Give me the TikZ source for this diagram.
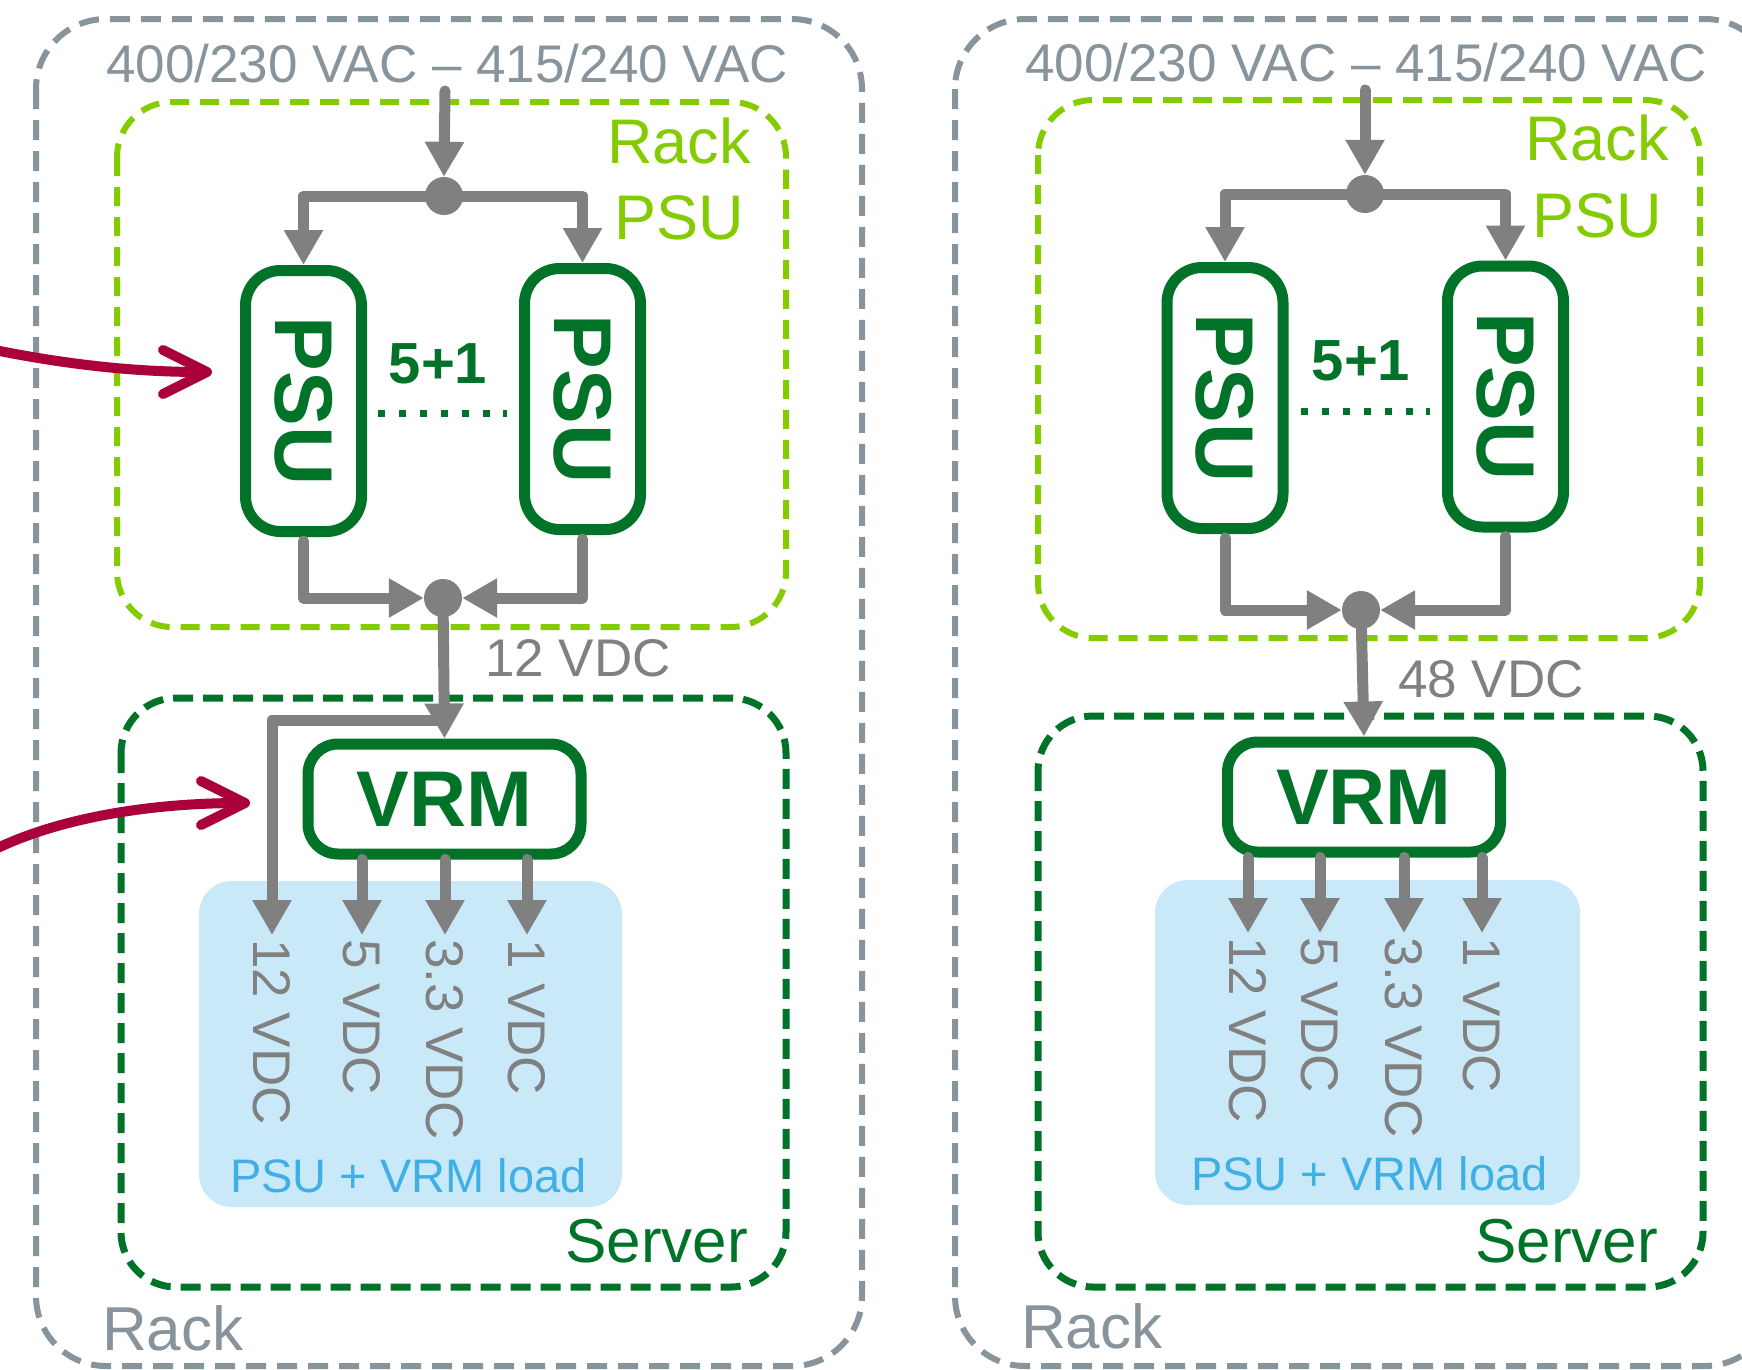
\documentclass[tikz,border=0pt]{standalone}
\usepackage{fontspec}
\setmainfont{Liberation Sans}
\usetikzlibrary{arrows.meta}
\definecolor{rackgray}{RGB}{135,148,155}
\definecolor{lgreen}{RGB}{132,204,0}
\definecolor{dgreen}{RGB}{0,115,40}
\definecolor{wgray}{RGB}{128,128,128}
\definecolor{mag}{RGB}{170,0,60}
\definecolor{lblue}{RGB}{201,233,248}
\definecolor{tblue}{RGB}{64,175,230}
\newcommand{\myfs}[1]{\fontsize{#1}{#1}\selectfont}
\begin{document}
\begin{tikzpicture}[x=1pt,y=-1pt,
  rackbox/.style={draw=rackgray, line width=6pt, dash pattern=on 20pt off 11pt, rounded corners=70pt},
  rpsubox/.style={draw=lgreen, line width=6pt, dash pattern=on 19pt off 11pt, rounded corners=55pt},
  srvbox/.style={draw=dgreen, line width=7pt, dash pattern=on 20pt off 10pt, rounded corners=55pt},
  loadbox/.style={fill=lblue, rounded corners=33pt},
  psubox/.style={draw=dgreen, line width=11pt, rounded corners=35pt, minimum width=116pt, minimum height=261pt, inner sep=0pt, text=dgreen, font=\myfs{82}\bfseries},
  vrmbox/.style={draw=dgreen, line width=11pt, rounded corners=30pt, minimum width=273pt, minimum height=110pt, inner sep=0pt, text=dgreen, font=\myfs{79}\bfseries},
  jdot/.style={circle, fill=wgray, minimum size=38pt, inner sep=0pt},
  wire/.style={draw=wgray, line width=11pt, line cap=round, line join=round},
  feed/.style={wire, -{Triangle[length=35pt,width=37pt]}},
  pointer/.style={draw=mag, line width=10pt, line cap=round, -{Straight Barb[length=44pt,width=44pt,round]}},
  hdr/.style={text=rackgray, font=\myfs{53}, inner sep=0pt, anchor=base},
  rpl/.style={text=lgreen, font=\myfs{63}, inner sep=0pt, anchor=base},
  srvl/.style={text=dgreen, font=\myfs{62}, inner sep=0pt, anchor=base east},
  rackl/.style={text=rackgray, font=\myfs{62}, inner sep=0pt, anchor=base west},
  vlab/.style={text=wgray, font=\myfs{53}, inner sep=0pt, rotate=-90, anchor=west},
  midl/.style={text=wgray, font=\myfs{53}, inner sep=0pt, anchor=base west},
  loadl/.style={text=tblue, font=\myfs{47}, inner sep=0pt, anchor=base},
  redl/.style={text=dgreen, font=\myfs{58}\bfseries, inner sep=0pt, anchor=base},
  dots/.style={draw=dgreen, line width=7pt, dash pattern=on 7pt off 13.9pt}
]
\useasboundingbox (0,0) rectangle (1742,1369);
\fill[white] (0,0) rectangle (1742,1369);

% ================= LEFT PANEL =================
\draw[rackbox] (36,19) rectangle (862,1366);
\draw[rpsubox] (117,102) rectangle (786,627);
\draw[srvbox] (121,698) rectangle (786,1287);
\fill[loadbox] (199,881) rectangle (622,1207);

\node[hdr] (hdrL) at (447,82) {400/230 VAC – 415/240 VAC};
\node[rpl] (rkL) at (679,163) {Rack};
\node[rpl] (rpL) at (679,239) {PSU};

\node[psubox] (psuAL) at (303.5,401) {\rotatebox{-90}{PSU}};
\node[psubox] (psuBL) at (582.5,399) {\rotatebox{-90}{PSU}};
\node[redl] (redL) at (438,383) {5+1};
\coordinate (dlaL) at (378,413);
\coordinate (dlbL) at (507,413);
\draw[dots] (dlaL) -- (dlbL);

\node[jdot] (dtL) at (444,196) {};
\node[jdot] (dbL) at (443,598) {};
\coordinate (inL) at (445,91);
\draw[feed] (inL) -- (dtL.north);
\draw[feed] (dtL.center) -| (psuAL.north);
\draw[feed] (dtL.center) -| (psuBL.north);
\draw[feed] ([yshift=-4pt]psuAL.south) |- (dbL.west);
\draw[feed] ([yshift=-4pt]psuBL.south) |- (dbL.east);

\node[midl] (v12L) at (485,676) {12 VDC};
\node[vrmbox] (vrmL) at (444.5,799) {VRM};
\draw[feed] (dbL.center) -- (vrmL.north);

\coordinate (byL) at (445,720);
\coordinate (t1L) at (272,935);
\coordinate (t2L) at (362,935);
\coordinate (t3L) at (445,935);
\coordinate (t4L) at (527,935);
\draw[feed] (byL) -| (t1L);
\draw[feed] (vrmL.south -| t2L) -- (t2L);
\draw[feed] (vrmL.south -| t3L) -- (t3L);
\draw[feed] (vrmL.south -| t4L) -- (t4L);
\node[vlab] (l1L) at (272,939) {12 VDC};
\node[vlab] (l2L) at (362,939) {5 VDC};
\node[vlab] (l3L) at (445,939) {3.3 VDC};
\node[vlab] (l4L) at (527,939) {1 VDC};
\node[loadl] (ldL) at (408.5,1192) {PSU + VRM load};
\node[srvl] (svL) at (748,1262) {Server};
\node[rackl] (rbL) at (102,1350) {Rack};

% ================= RIGHT PANEL =================
\draw[rackbox] (955,19) rectangle (1775,1366);
\draw[rpsubox] (1038,100) rectangle (1700,638);
\draw[srvbox] (1038,716) rectangle (1703,1287);
\fill[loadbox] (1155,880) rectangle (1580,1205);

\node[hdr] (hdrR) at (1366,81) {400/230 VAC – 415/240 VAC};
\node[rpl] (rkR) at (1597,160) {Rack};
\node[rpl] (rpR) at (1597,237) {PSU};

\node[psubox] (psuAR) at (1225,398) {\rotatebox{-90}{PSU}};
\node[psubox] (psuBR) at (1505.5,396.5) {\rotatebox{-90}{PSU}};
\node[redl] (redR) at (1361,380) {5+1};
\coordinate (dlaR) at (1301,411);
\coordinate (dlbR) at (1430,411);
\draw[dots] (dlaR) -- (dlbR);

\node[jdot] (dtR) at (1365,194) {};
\node[jdot] (dbR) at (1361,610) {};
\coordinate (inR) at (1365,90);
\draw[feed] (inR) -- (dtR.north);
\draw[feed] (dtR.center) -| (psuAR.north);
\draw[feed] (dtR.center) -| (psuBR.north);
\draw[feed] ([yshift=-4pt]psuAR.south) |- (dbR.west);
\draw[feed] ([yshift=-4pt]psuBR.south) |- (dbR.east);

\node[midl] (v48R) at (1398,697) {48 VDC};
\node[vrmbox] (vrmR) at (1364,797) {VRM};
\draw[feed] (dbR.center) -- (vrmR.north);

\coordinate (t1R) at (1248,933);
\coordinate (t2R) at (1320,933);
\coordinate (t3R) at (1404,933);
\coordinate (t4R) at (1482,933);
\draw[feed] (vrmR.south -| t1R) -- (t1R);
\draw[feed] (vrmR.south -| t2R) -- (t2R);
\draw[feed] (vrmR.south -| t3R) -- (t3R);
\draw[feed] (vrmR.south -| t4R) -- (t4R);
\node[vlab] (l1R) at (1248,937) {12 VDC};
\node[vlab] (l2R) at (1320,937) {5 VDC};
\node[vlab] (l3R) at (1404,937) {3.3 VDC};
\node[vlab] (l4R) at (1482,937) {1 VDC};
\node[loadl] (ldR) at (1369.5,1190) {PSU + VRM load};
\node[srvl] (svR) at (1658,1262) {Server};
\node[rackl] (rbR) at (1021,1348) {Rack};

% ================= POINTERS =================
\coordinate (m1s) at (-20,347);
\coordinate (m1e) at (212,372);
\draw[pointer] (m1s) .. controls (70,366) and (140,372) .. (m1e);
\coordinate (m2s) at (-20,857);
\coordinate (m2e) at (250,803);
\draw[pointer] (m2s) .. controls (50,818) and (150,803) .. (m2e);
\end{tikzpicture}
\end{document}
